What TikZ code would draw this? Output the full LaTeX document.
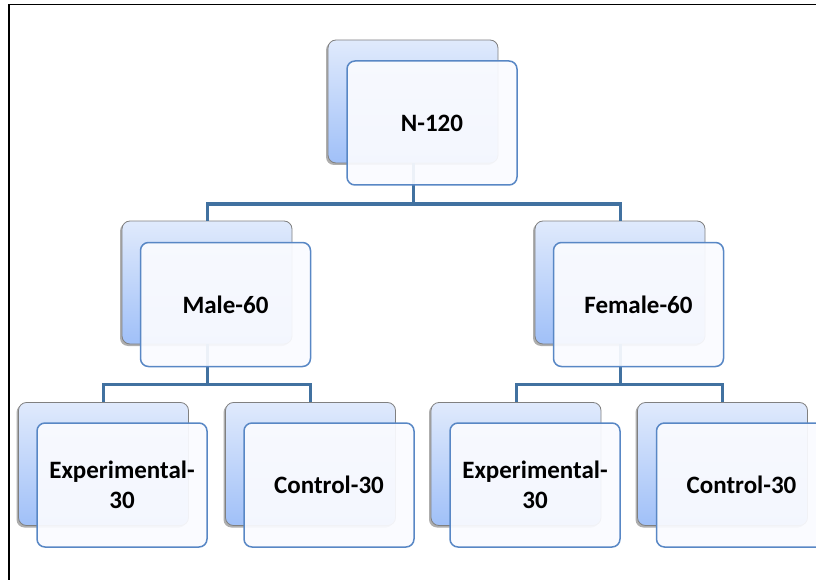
\documentclass[tikz,border=0pt]{standalone}
\usepackage{fontspec}
\setmainfont{Carlito}
\usetikzlibrary{shadows}
\definecolor{linkc}{RGB}{65,113,160}
\definecolor{frontc}{RGB}{88,135,197}
\definecolor{backtop}{RGB}{224,234,252}
\definecolor{backbot}{RGB}{160,192,248}
\definecolor{backedge}{RGB}{128,128,128}
\definecolor{frontfill}{RGB}{250,251,255}
\tikzset{
  backbox/.style={draw=backedge, line width=0.8pt, rounded corners=8pt,
    top color=backtop, bottom color=backbot, minimum width=170pt, minimum height=123pt,
    inner sep=0pt, drop shadow={shadow xshift=-2pt, shadow yshift=-2pt, opacity=0.45, fill=black!70}},
  frontbox/.style={draw=frontc, line width=1.5pt, rounded corners=8pt,
    fill=frontfill, fill opacity=0.93, text opacity=1, minimum width=170pt, minimum height=124pt,
    inner sep=0pt, align=center, font=\fontsize{25}{30}\selectfont\bfseries},
  link/.style={draw=linkc, line width=3pt}
}
\begin{document}
\begin{tikzpicture}[x=1pt,y=-1pt]
\useasboundingbox (0,0) rectangle (816,580);
\draw[line width=1.5pt] (9,580) -- (9,4.5) -- (816,4.5);
% back boxes
\node[backbox] (nb) at (413,101.5) {};
\node[backbox] (mb) at (207,282.5) {};
\node[backbox] (fb) at (620,282.5) {};
\node[backbox] (elb) at (103.5,464) {};
\node[backbox] (clb) at (310.5,464) {};
\node[backbox] (erb) at (516,464) {};
\node[backbox] (crb) at (722.5,464) {};
% junctions
\coordinate (j1) at (0,204);
\coordinate (j2) at (0,384);
% connectors
\draw[link] (nb.south) -- (nb.south |- j1) -| (mb.north);
\draw[link] (nb.south |- j1) -| (fb.north);
\draw[link] (mb.south) -- (mb.south |- j2) -| (elb.north);
\draw[link] (mb.south |- j2) -| (clb.north);
\draw[link] (fb.south) -- (fb.south |- j2) -| (erb.north);
\draw[link] (fb.south |- j2) -| (crb.north);
% front boxes
\node[frontbox] (n) at (432,123) {N-120};
\node[frontbox] (m) at (225.5,304.5) {Male-60};
\node[frontbox] (f) at (638.5,304.5) {Female-60};
\node[frontbox] (el) at (122,485) {Experimental-\\30};
\node[frontbox] (cl) at (329,485) {Control-30};
\node[frontbox] (er) at (535,485) {Experimental-\\30};
\node[frontbox] (cr) at (741.5,485) {Control-30};
\end{tikzpicture}
\end{document}
